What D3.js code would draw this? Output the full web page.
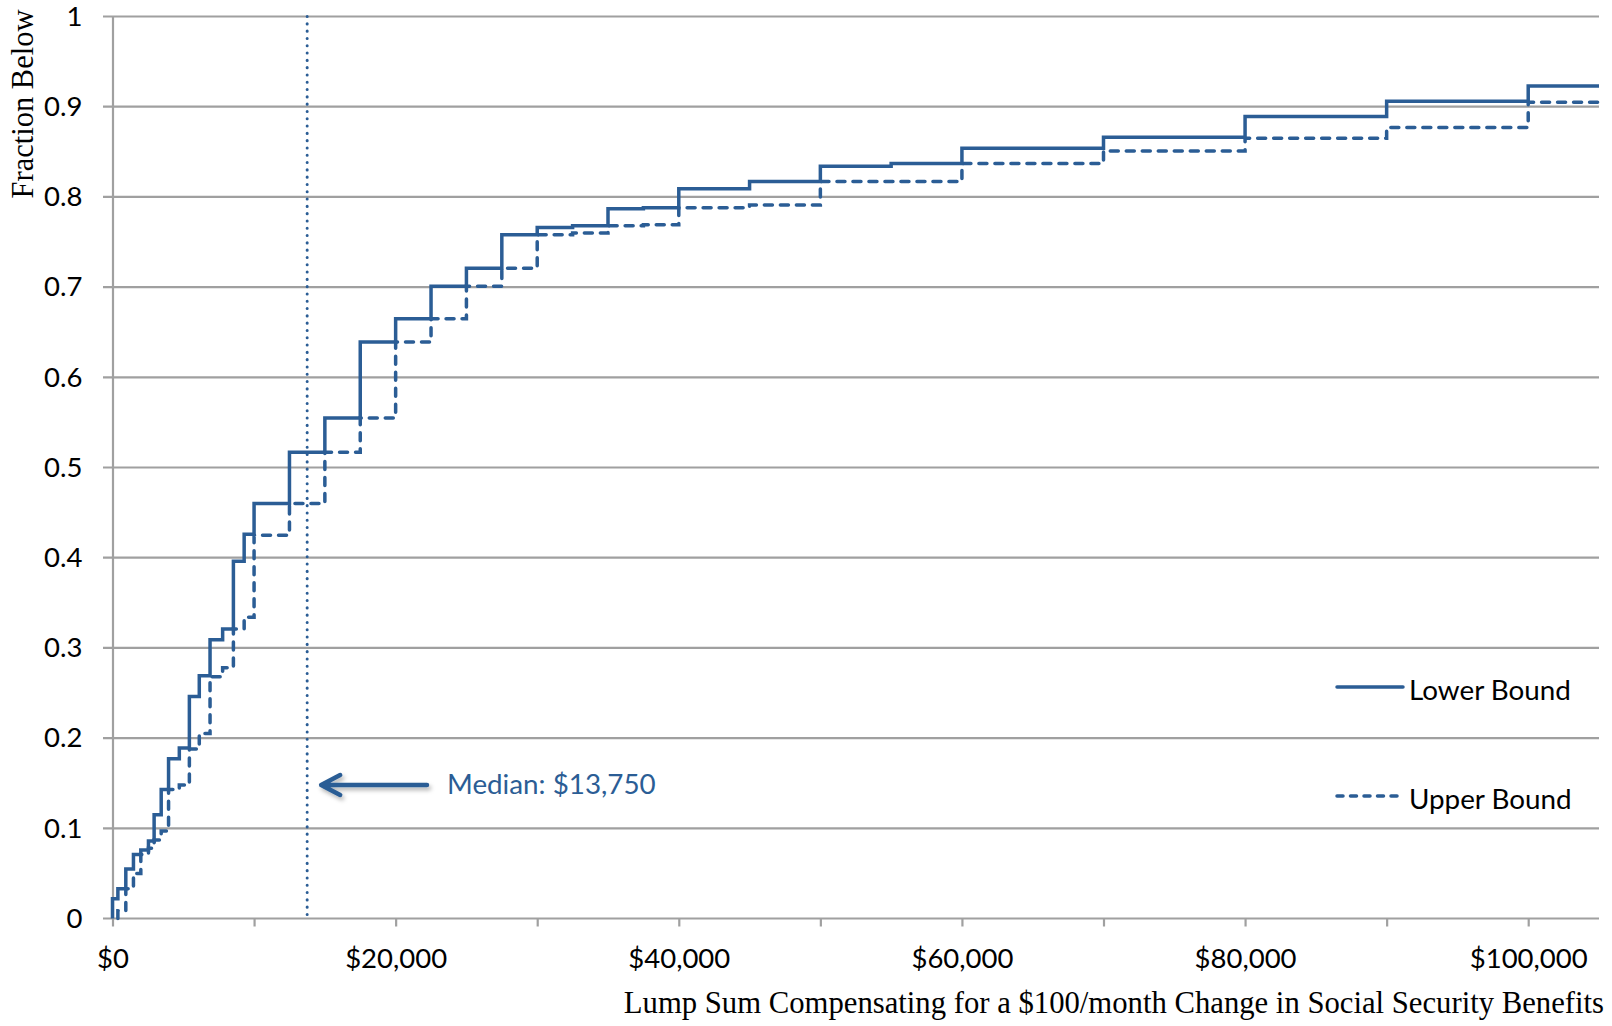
<!DOCTYPE html>
<html>
<head>
<meta charset="utf-8">
<script src="https://cdn.jsdelivr.net/npm/d3@7"></script>
<style>
body{margin:0;background:#fff}
</style>
</head>
<body>
<svg id="svg1" width="1612" height="1026"></svg>
<script>
// step points (dollars) and fraction below
var lowerX = [0,380,940,1480,2000,2540,2940,3440,3960,4720,5430,6130,6890,7780,8540,9300,10000,12500,15000,17500,20000,22500,25000,27500,30000,32500,35000,37500,40000,45000,50000,55000,60000,70000,80000,90000,100000]
var lowerY = [0.022,0.033,0.055,0.071,0.076,0.086,0.115,0.143,0.177,0.189,0.246,0.269,0.309,0.321,0.396,0.426,0.46,0.517,0.555,0.639,0.665,0.701,0.721,0.758,0.766,0.768,0.787,0.788,0.809,0.817,0.834,0.837,0.854,0.866,0.889,0.906,0.923]
var upperX = [380,940,1480,2000,2540,2940,3440,3960,4720,5430,6130,6890,7780,8540,9300,10000,12500,15000,17500,20000,22500,25000,27500,30000,32500,35000,37500,40000,45000,50000,60000,70000,80000,90000,100000]
var upperY = [0.0085,0.033,0.050,0.071,0.078,0.087,0.097,0.143,0.148,0.188,0.205,0.268,0.278,0.321,0.334,0.425,0.46,0.517,0.555,0.639,0.665,0.701,0.721,0.758,0.760,0.768,0.769,0.788,0.791,0.817,0.837,0.851,0.865,0.877,0.905]
var yTicks = [0,0.1,0.2,0.3,0.4,0.5,0.6,0.7,0.8,0.9,1]
var xTicks = [0,10000,20000,30000,40000,50000,60000,70000,80000,90000,100000]
var median = 13750
var xMax = 105000

var blue = "#2b5d95"
var grid = "#a0a0a0"
var sans = "Lato, 'Open Sans', sans-serif"
var serif = "'Liberation Serif', 'Times New Roman', serif"

var svg = d3.select("#svg1")
var x = d3.scaleLinear().domain([0,xMax]).range([112.5,1599])
var y = d3.scaleLinear().domain([0,1]).range([918.5,16.5])

// gridlines
svg.append("g").selectAll("line").data(yTicks).enter().append("line")
  .attr("x1",103).attr("x2",x(xMax))
  .attr("y1",function(d){return y(d)}).attr("y2",function(d){return y(d)})
  .attr("stroke",grid).attr("stroke-width",2.2)

// y axis
var yAxis = d3.axisLeft(y).tickValues(yTicks).tickSize(0).tickPadding(30).tickFormat(d3.format("~g"))
var gy = svg.append("g").attr("transform","translate("+x(0)+",0)").call(yAxis)
gy.select(".domain").attr("stroke",grid).attr("stroke-width",2.2)
gy.selectAll("text").attr("font-family",sans).attr("font-size",27.5).attr("fill","#000")

// x axis
var xAxis = d3.axisBottom(x).tickValues(xTicks).tickSize(8).tickPadding(22)
  .tickFormat(function(d){return d%20000==0 ? "$"+d3.format(",")(d) : ""})
var gx = svg.append("g").attr("transform","translate(0,"+y(0)+")").call(xAxis)
gx.select(".domain").remove()
gx.selectAll("line").attr("stroke",grid).attr("stroke-width",2.2)
gx.selectAll("text").attr("font-family",sans).attr("font-size",27.5).attr("fill","#000")

// step lines
var line = d3.line().x(function(d){return x(d[0])}).y(function(d){return y(d[1])}).curve(d3.curveStepAfter)
var lowerPts = [[0,0]].concat(lowerX.map(function(v,i){return [v,lowerY[i]]}))
lowerPts.push([xMax,lowerY[lowerY.length-1]])
var upperPts = [[upperX[0],0]].concat(upperX.map(function(v,i){return [v,upperY[i]]}))
upperPts.push([xMax,upperY[upperY.length-1]])

svg.append("path").attr("d",line(upperPts)).attr("fill","none")
  .attr("stroke",blue).attr("stroke-width",3.5).attr("stroke-dasharray","8,8").attr("stroke-linecap","round")
svg.append("path").attr("d",line(lowerPts)).attr("fill","none")
  .attr("stroke",blue).attr("stroke-width",3.5).attr("stroke-linejoin","miter")

// median dotted line
svg.append("line").attr("x1",x(median)).attr("x2",x(median)).attr("y1",y(1)).attr("y2",y(0))
  .attr("stroke",blue).attr("stroke-width",3).attr("stroke-dasharray","0.1,7.2").attr("stroke-linecap","round")

// arrow + label
var defs = svg.append("defs")
var f = defs.append("filter").attr("id","sh").attr("x","-20%").attr("y","-50%").attr("width","140%").attr("height","200%")
f.append("feDropShadow").attr("dx",2).attr("dy",3).attr("stdDeviation",2).attr("flood-color","#000").attr("flood-opacity",0.3)
var ay = 785
var arrow = svg.append("g").attr("filter","url(#sh)")
arrow.append("path")
  .attr("d","M"+427+","+ay+"L"+(x(median)+14)+","+ay+"M"+(x(median)+33)+","+(ay-10)+"L"+(x(median)+14)+","+ay+"L"+(x(median)+33)+","+(ay+10))
  .attr("fill","none").attr("stroke",blue).attr("stroke-width",4.5).attr("stroke-linecap","round").attr("stroke-linejoin","round")
svg.append("text").attr("x",447).attr("y",794).text("Median: $13,750")
  .attr("font-family",sans).attr("font-size",27.8).attr("fill",blue)

// legend
var legend = [["Lower Bound",null,687],["Upper Bound","7,7",796]]
legend.forEach(function(l){
  var ln = svg.append("line").attr("x1",1337).attr("x2",1403).attr("y1",l[2]).attr("y2",l[2])
    .attr("stroke",blue).attr("stroke-width",3.5).attr("stroke-linecap","round")
  if(l[1]) ln.attr("stroke-dasharray","6,7.5")
  svg.append("text").attr("x",1409).attr("y",l[2]+13).text(l[0])
    .attr("font-family",sans).attr("font-size",27.8).attr("fill","#000")
})

// axis titles
svg.append("text").attr("transform","translate(33,104) rotate(-90)").attr("text-anchor","middle")
  .text("Fraction Below").attr("font-family",serif).attr("font-size",30.5).attr("fill","#000")
svg.append("text").attr("x",1604).attr("y",1013).attr("text-anchor","end")
  .text("Lump Sum Compensating for a $100/month Change in Social Security Benefits")
  .attr("font-family",serif).attr("font-size",30.7).attr("fill","#000")
</script>
</body>
</html>
